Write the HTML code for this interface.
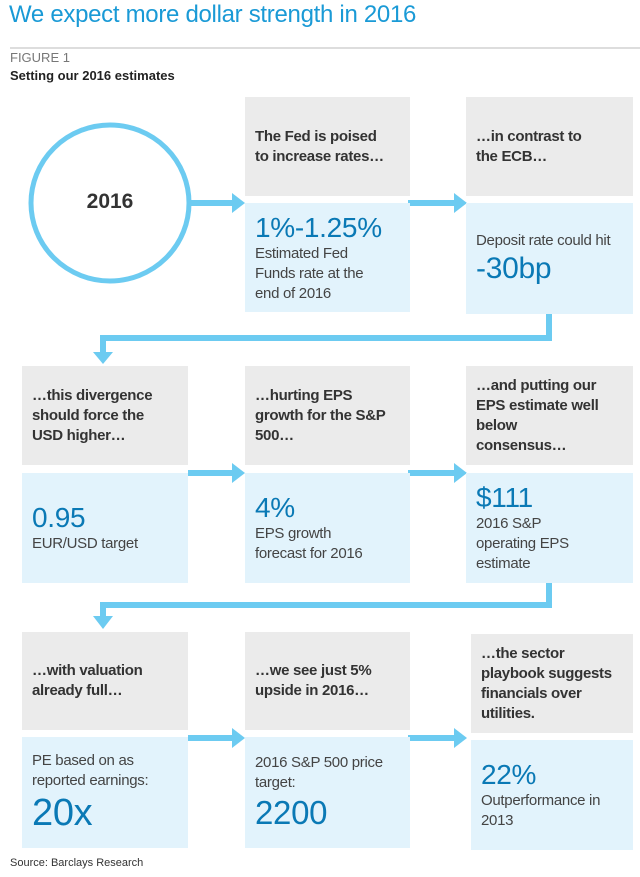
<!DOCTYPE html>
<html><head><meta charset="utf-8"><style>
body{margin:0;width:640px;height:877px;background:#fff;position:relative;font-family:"Liberation Sans",sans-serif;overflow:hidden}
.a{position:absolute}
.g{position:absolute;background:#ebebeb;box-sizing:border-box;padding:0 10px;color:#333;font-weight:bold;font-size:15px;line-height:20px;display:flex;align-items:center;letter-spacing:-0.3px;white-space:nowrap}
.b{position:absolute;background:#e2f3fc;box-sizing:border-box;padding:0 10px;color:#444;font-size:15px;line-height:20px;display:flex;flex-direction:column;justify-content:center;letter-spacing:-0.3px;white-space:nowrap}
.n{color:#0a79b5;font-size:28px;line-height:32px}
</style></head><body>
<div class="a" style="left:9px;top:1px;font-size:24px;color:#1a9ad6;letter-spacing:-0.3px">We expect more dollar strength in 2016</div>
<div class="a" style="left:10px;top:47px;width:630px;height:2px;background:#ddd"></div>
<div class="a" style="left:10px;top:50px;font-size:13px;color:#777">FIGURE 1</div>
<div class="a" style="left:10px;top:68px;font-size:13px;font-weight:bold;color:#222">Setting our 2016 estimates</div>

<svg class="a" style="left:0;top:0" width="640" height="877">
<g fill="none" stroke="#6ccbf1" stroke-width="6">
<ellipse cx="110" cy="203" rx="79" ry="78" stroke-width="5"/>
<line x1="190" y1="203" x2="233" y2="203"/><line x1="408" y1="203" x2="455" y2="203"/>
<polyline points="549,312 549,338 103,338 103,354"/>
<line x1="188" y1="473" x2="233" y2="473"/><line x1="408" y1="473" x2="455" y2="473"/>
<polyline points="549,583 549,605 103,605 103,618"/>
<line x1="188" y1="738" x2="233" y2="738"/><line x1="408" y1="738" x2="455" y2="738"/>
</g>
<g fill="#6ccbf1">
<polygon points="232,193 245,203 232,213"/><polygon points="454,193 467,203 454,213"/>
<polygon points="93,352 113,352 103,364"/>
<polygon points="232,463 245,473 232,483"/><polygon points="454,463 467,473 454,483"/>
<polygon points="93,616 113,616 103,629"/>
<polygon points="232,728 245,738 232,748"/><polygon points="454,728 467,738 454,748"/>
</g>
</svg>
<div class="a" style="left:60px;top:190px;width:100px;text-align:center;font-size:21px;font-weight:bold;color:#333">2016</div>

<div class="g" style="left:245px;top:97px;width:165px;height:99px">The Fed is poised<br>to increase rates…</div>
<div class="b" style="left:245px;top:203px;width:165px;height:109px"><span class="n">1%-1.25%</span>Estimated Fed<br>Funds rate at the<br>end of 2016</div>
<div class="g" style="left:466px;top:97px;width:167px;height:99px">…in contrast to<br>the ECB…</div>
<div class="b" style="left:466px;top:203px;width:167px;height:111px">Deposit rate could hit<span class="n" style="font-size:30px;line-height:36px">-30bp</span></div>

<div class="g" style="left:22px;top:366px;width:166px;height:99px">…this divergence<br>should force the<br>USD higher…</div>
<div class="b" style="left:22px;top:473px;width:166px;height:110px"><span class="n">0.95</span>EUR/USD target</div>
<div class="g" style="left:245px;top:366px;width:165px;height:99px">…hurting EPS<br>growth for the S&amp;P<br>500…</div>
<div class="b" style="left:245px;top:473px;width:165px;height:110px"><span class="n">4%</span>EPS growth<br>forecast for 2016</div>
<div class="g" style="left:466px;top:366px;width:167px;height:99px">…and putting our<br>EPS estimate well<br>below<br>consensus…</div>
<div class="b" style="left:466px;top:473px;width:167px;height:110px"><span class="n">$111</span>2016 S&amp;P<br>operating EPS<br>estimate</div>

<div class="g" style="left:22px;top:632px;width:166px;height:98px">…with valuation<br>already full…</div>
<div class="b" style="left:22px;top:737px;width:166px;height:111px">PE based on as<br>reported earnings:<span class="n" style="font-size:38px;line-height:44px">20x</span></div>
<div class="g" style="left:245px;top:632px;width:165px;height:98px">…we see just 5%<br>upside in 2016…</div>
<div class="b" style="left:245px;top:737px;width:165px;height:111px">2016 S&amp;P 500 price<br>target:<span class="n" style="font-size:33px;line-height:40px">2200</span></div>
<div class="g" style="left:471px;top:634px;width:162px;height:99px">…the sector<br>playbook suggests<br>financials over<br>utilities.</div>
<div class="b" style="left:471px;top:740px;width:162px;height:110px"><span class="n">22%</span>Outperformance in<br>2013</div>

<div class="a" style="left:10px;top:857px;font-size:11px;color:#333">Source: Barclays Research</div>
</body></html>
